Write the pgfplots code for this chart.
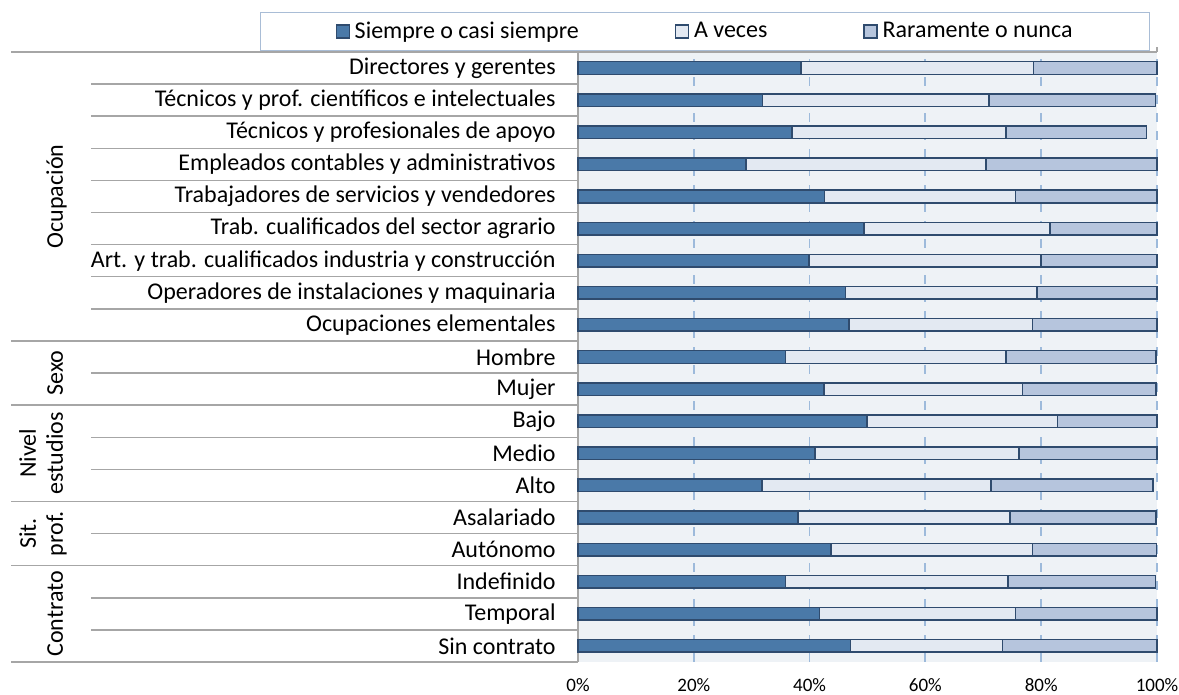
\documentclass[border=0pt]{standalone}
\usepackage{pgfplots}
\pgfplotsset{compat=1.18}
\usepackage{pgfplotstable}
\usepackage{fontspec}
\setmainfont{Carlito}
\definecolor{cDark}{HTML}{4A79A8}
\definecolor{cLight}{HTML}{E3E9F2}
\definecolor{cMid}{HTML}{B6C5DD}
\definecolor{cEdge}{HTML}{2F4B6E}
\definecolor{cBg}{HTML}{EEF2F6}
\definecolor{cGrid}{HTML}{9DBADB}
\definecolor{cSep}{HTML}{A6A6A6}
\definecolor{cLeg}{HTML}{A9BDD6}

\pgfplotstableread{
y s a r
18 38.5 40.2 21.3
17 31.9 39.1 28.7
16 37.0 36.9 24.3
15 29.0 41.5 29.5
14 42.6 33.0 24.4
13 49.4 32.1 18.5
12 39.9 40.1 20.0
11 46.2 33.1 20.7
10 46.8 31.7 21.5
9 35.8 38.1 25.9
8 42.5 34.3 23.0
7 49.9 32.9 17.2
6 40.9 35.3 23.8
5 31.8 39.5 28.0
4 38.0 36.6 25.2
3 43.7 34.8 21.4
2 35.8 38.5 25.4
1 41.7 33.9 24.4
0 47.1 26.2 26.7
}\data

\begin{document}
\begin{tikzpicture}
\useasboundingbox (0pt,0pt) rectangle (589.5pt,347.5pt);
\begin{axis}[
  at={(289pt,16.5pt)}, anchor=south west,
  scale only axis, width=289.5pt, height=305pt,
  xbar stacked, bar width=6.3pt,
  xmin=0, xmax=100, ymin=-0.5, ymax=18.5,
  clip=false,
  axis line style={draw=none},
  axis background/.style={fill=cBg},
  xtick={0,20,40,60,80,100},
  xmajorgrids,
  grid style={cGrid, line width=0.9pt, dash pattern=on 4.5pt off 4.5pt},
  major tick length=0pt,
  xticklabel={\pgfmathprintnumber{\tick}\%},
  /pgf/number format/assume math mode=true,
  xticklabel style={font=\fontsize{9.5}{11}\selectfont, anchor=center, yshift=-11.5pt},
  ytick={0,...,18},
  yticklabels={Sin contrato, Temporal, Indefinido, Autónomo, Asalariado, Alto, Medio, Bajo, Mujer, Hombre, Ocupaciones elementales, Operadores de instalaciones y maquinaria, Art. y trab. cualificados industria y construcción, Trab. cualificados del sector agrario, Trabajadores de servicios y vendedores, Empleados contables y administrativos, Técnicos y profesionales de apoyo, Técnicos y prof. científicos e intelectuales, Directores y gerentes},
  yticklabel style={font=\fontsize{12}{14}\selectfont, anchor=east, inner sep=0pt, xshift=-11pt},
  legend columns=3,
  legend style={at={(0.2194,1.0336)}, anchor=center, draw=cLeg, line width=0.75pt, fill=white,
    inner xsep=37.5pt, inner ysep=3.5pt,
    font=\fontsize{12}{14}\selectfont,
    nodes={inner sep=1pt},
    /tikz/every odd column/.append style={column sep=1.5pt},
    /tikz/every even column/.append style={column sep=47pt}},
  legend image code/.code={\draw[#1, line width=0.6pt] (0pt,-3.25pt) rectangle (6.5pt,3.25pt);},
]
\addplot[fill=cDark, draw=cEdge, line width=0.75pt] table[x=s, y=y] {\data};
\addplot[fill=cLight, draw=cEdge, line width=0.75pt] table[x=a, y=y] {\data};
\addplot[fill=cMid, draw=cEdge, line width=0.75pt] table[x=r, y=y] {\data};
\legend{Siempre o casi siempre, A veces, Raramente o nunca}

\pgfplotsinvokeforeach{17.5,16.5,15.5,14.5,13.5,12.5,11.5,10.5,8.5,6.5,5.5,3.5,1.5,0.5}{
  \draw[cSep, line width=0.75pt] ([xshift=-243.5pt]axis cs:0,#1) -- (axis cs:0,#1);
}
\pgfplotsinvokeforeach{18.5,9.5,7.5,4.5,2.5,-0.5}{
  \draw[cSep, line width=0.75pt] ([xshift=-283.25pt]axis cs:0,#1) -- (axis cs:0,#1);
}
\draw[cSep, line width=0.75pt] (axis cs:0,-0.5) -- (axis cs:0,18.5) -- (axis cs:100,18.5);
\pgfplotsinvokeforeach{0,20,40,60,80,100}{
  \draw[cSep, line width=0.75pt] (axis cs:#1,18.5) -- ++(0pt,2.5pt);
}
\node[rotate=90, anchor=base, font=\fontsize{12}{14}\selectfont] at ([xshift=-257.5pt]axis cs:0,14) {Ocupación};
\node[rotate=90, anchor=base, font=\fontsize{12}{14}\selectfont] at ([xshift=-257.5pt]axis cs:0,8.5) {Sexo};
\node[rotate=90, anchor=base, font=\fontsize{12}{14}\selectfont] at ([xshift=-271pt]axis cs:0,6) {Nivel};
\node[rotate=90, anchor=base, font=\fontsize{12}{14}\selectfont] at ([xshift=-257.5pt]axis cs:0,6) {estudios};
\node[rotate=90, anchor=base, font=\fontsize{12}{14}\selectfont] at ([xshift=-271pt]axis cs:0,3.5) {Sit.};
\node[rotate=90, anchor=base, font=\fontsize{12}{14}\selectfont] at ([xshift=-257.5pt]axis cs:0,3.5) {prof.};
\node[rotate=90, anchor=base, font=\fontsize{12}{14}\selectfont] at ([xshift=-257.5pt]axis cs:0,1) {Contrato};
\end{axis}
\end{tikzpicture}
\end{document}
